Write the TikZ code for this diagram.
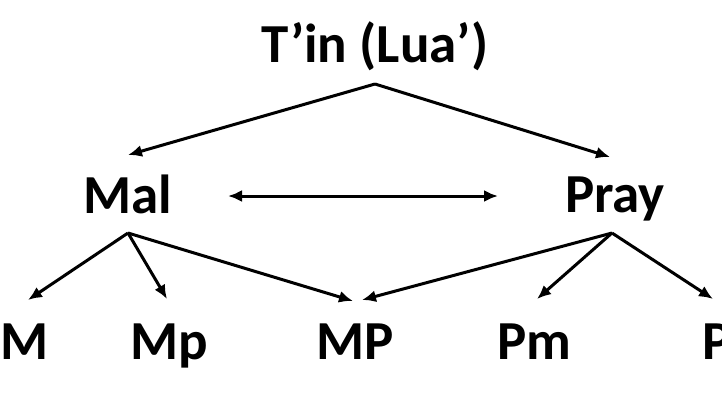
\documentclass[tikz,border=0pt]{standalone}
\usepackage{fontspec}
\setmainfont{Carlito}
\usetikzlibrary{arrows.meta,positioning}

\begin{document}
\begin{tikzpicture}[x=1pt, y=-1pt]
        \tikzstyle{word}=[inner sep=0pt, anchor=base, font=\fontsize{55}{60}\selectfont\bfseries]
        \tikzstyle{arr}=[line width=3pt, -{Latex[length=14pt,width=12pt]}]

        % Frame
        \useasboundingbox (0,0) rectangle (722,410);
        \clip (0,0) rectangle (722,410);

        % Top and middle row
        \node[word] (tin) at (375,62) {T’in (Lua’)};
        \node[word] (mal) at (128,213) {Mal};
        \node[word] (pray) at (615,212) {Pray};

        % Bottom row
        \node[word] (mm) at (25,359) {M};
        \node[word] (mp) at (169,359) {Mp};
        \node[word] (bigmp) at (355,359) {MP};
        \node[word] (pm) at (534,359) {Pm};
        \node[word] (pp) at (717,359) {P};

        % Branch points below the words
        \coordinate (tin_out) at ([yshift=-22pt]tin.base);
        \coordinate (mal_out) at ([yshift=-20pt]mal.base);
        \coordinate (pray_out) at ([xshift=-3pt,yshift=-21pt]pray.base);

        % Top fork
        \draw[arr] (tin_out) -- ([yshift=58pt]mal.base);
        \draw[arr] (tin_out) -- ([xshift=-5pt,yshift=55pt]pray.base);

        % Mal and Pray
        \draw[arr, {Latex[length=14pt,width=12pt]}-{Latex[length=14pt,width=12pt]}] ([xshift=100pt,yshift=17pt]mal.base) -- ([xshift=-117pt,yshift=16pt]pray.base);

        % Mal fan
        \draw[arr] (mal_out) -- ([xshift=3pt,yshift=59pt]mm.base);
        \draw[arr] (mal_out) -- ([xshift=-2pt,yshift=60pt]mp.base);
        \draw[arr] (mal_out) -- ([xshift=-2pt,yshift=58pt]bigmp.base);

        % Pray fan
        \draw[arr] (pray_out) -- ([xshift=7pt,yshift=59pt]bigmp.base);
        \draw[arr] (pray_out) -- ([xshift=3pt,yshift=60pt]pm.base);
        \draw[arr] (pray_out) -- ([xshift=-4pt,yshift=60pt]pp.base);
    \end{tikzpicture}
\end{document}
